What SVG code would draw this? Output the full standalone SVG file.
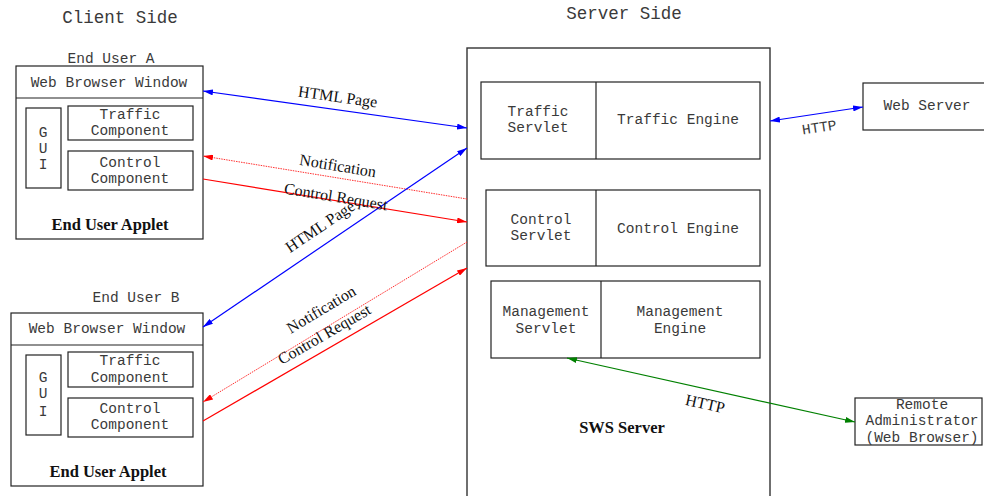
<svg xmlns="http://www.w3.org/2000/svg" width="984" height="496" viewBox="0 0 984 496">
  <style>
    .box { fill: #fff; stroke: #222; stroke-width: 1.2; }
    .mono { font-family: "Liberation Mono", "DejaVu Sans Mono", monospace; font-size: 14.5px; fill: #3a3a3a; }
    .title { font-family: "Liberation Mono", "DejaVu Sans Mono", monospace; font-size: 17.5px; fill: #3a3a3a; }
    .bold { font-family: "Liberation Serif", "Times New Roman", serif; font-size: 16.5px; font-weight: bold; fill: #111; }
    .lbl { font-family: "Liberation Serif", "Times New Roman", serif; font-size: 16px; fill: #111; }
    .blue { stroke: #0000ff; stroke-width: 1.2; fill: none; }
    .red { stroke: #ff0000; stroke-width: 1.2; fill: none; }
    .redDot { stroke: #ff3030; stroke-width: 1; stroke-dasharray: 1.5 1; fill: none; }
    .green { stroke: #008000; stroke-width: 1.2; fill: none; }
  </style>
  <defs>
    <marker id="ahBlue" viewBox="0 0 10 6" refX="10" refY="3" markerWidth="10" markerHeight="6" markerUnits="userSpaceOnUse" orient="auto-start-reverse">
      <path d="M0,0 L10,3 L0,6 z" fill="#0000ff"/>
    </marker>
    <marker id="ahRed" viewBox="0 0 10 6" refX="10" refY="3" markerWidth="10" markerHeight="6" markerUnits="userSpaceOnUse" orient="auto-start-reverse">
      <path d="M0,0 L10,3 L0,6 z" fill="#ff0000"/>
    </marker>
    <marker id="ahGreen" viewBox="0 0 10 6" refX="10" refY="3" markerWidth="10" markerHeight="6" markerUnits="userSpaceOnUse" orient="auto-start-reverse">
      <path d="M0,0 L10,3 L0,6 z" fill="#008000"/>
    </marker>
  </defs>

  <rect width="984" height="496" fill="#fff"/>

  <text class="title" x="120" y="23" text-anchor="middle">Client Side</text>
  <text class="title" x="624" y="19" text-anchor="middle">Server Side</text>

  <!-- End user A -->
  <g id="userA">
    <text class="mono" x="111" y="63" text-anchor="middle">End User A</text>
    <rect class="box" x="16" y="66" width="187" height="173"/>
    <line x1="16" y1="98" x2="203" y2="98" stroke="#222" stroke-width="1.2"/>
    <text class="mono" x="109" y="87" text-anchor="middle">Web Browser Window</text>
    <rect class="box" x="26" y="108" width="35" height="80"/>
    <text class="mono" x="43" y="137" text-anchor="middle">G</text>
    <text class="mono" x="43" y="153" text-anchor="middle">U</text>
    <text class="mono" x="43" y="169" text-anchor="middle">I</text>
    <rect class="box" x="68" y="106" width="125" height="34"/>
    <text class="mono" x="130" y="119" text-anchor="middle">Traffic</text>
    <text class="mono" x="130" y="135" text-anchor="middle">Component</text>
    <rect class="box" x="68" y="151" width="125" height="39"/>
    <text class="mono" x="130" y="167" text-anchor="middle">Control</text>
    <text class="mono" x="130" y="183" text-anchor="middle">Component</text>
    <text class="bold" x="110" y="230" text-anchor="middle">End User Applet</text>
  </g>

  <!-- End user B -->
  <g id="userB">
    <text class="mono" x="136" y="302" text-anchor="middle">End User B</text>
    <rect class="box" x="11" y="313" width="192" height="173"/>
    <line x1="11" y1="345" x2="203" y2="345" stroke="#222" stroke-width="1.2"/>
    <text class="mono" x="107" y="333" text-anchor="middle">Web Browser Window</text>
    <rect class="box" x="26" y="355" width="35" height="80"/>
    <text class="mono" x="43" y="382" text-anchor="middle">G</text>
    <text class="mono" x="43" y="398" text-anchor="middle">U</text>
    <text class="mono" x="43" y="416" text-anchor="middle">I</text>
    <rect class="box" x="68" y="352" width="125" height="35"/>
    <text class="mono" x="130" y="365" text-anchor="middle">Traffic</text>
    <text class="mono" x="130" y="382" text-anchor="middle">Component</text>
    <rect class="box" x="68" y="398" width="125" height="39"/>
    <text class="mono" x="130" y="413" text-anchor="middle">Control</text>
    <text class="mono" x="130" y="429" text-anchor="middle">Component</text>
    <text class="bold" x="108" y="477" text-anchor="middle">End User Applet</text>
  </g>

  <!-- SWS server -->
  <g id="swsServer">
    <rect x="467" y="48" width="303" height="460" fill="#fff" stroke="#333" stroke-width="1.4"/>
    <text class="bold" x="622" y="433" text-anchor="middle">SWS Server</text>
  </g>

  <g id="traffic">
    <rect class="box" x="481" y="82" width="279" height="77"/>
    <line x1="596" y1="82" x2="596" y2="159" stroke="#222" stroke-width="1.2"/>
    <text class="mono" x="538" y="116" text-anchor="middle">Traffic</text>
    <text class="mono" x="538" y="132" text-anchor="middle">Servlet</text>
    <text class="mono" x="678" y="124" text-anchor="middle">Traffic Engine</text>
  </g>

  <g id="control">
    <rect class="box" x="486" y="190" width="274" height="76"/>
    <line x1="596" y1="190" x2="596" y2="266" stroke="#222" stroke-width="1.2"/>
    <text class="mono" x="541" y="224" text-anchor="middle">Control</text>
    <text class="mono" x="541" y="240" text-anchor="middle">Servlet</text>
    <text class="mono" x="678" y="233" text-anchor="middle">Control Engine</text>
  </g>

  <g id="management">
    <rect class="box" x="491" y="281" width="269" height="77"/>
    <line x1="601" y1="281" x2="601" y2="358" stroke="#222" stroke-width="1.2"/>
    <text class="mono" x="546" y="316" text-anchor="middle">Management</text>
    <text class="mono" x="546" y="333" text-anchor="middle">Servlet</text>
    <text class="mono" x="680" y="316" text-anchor="middle">Management</text>
    <text class="mono" x="680" y="333" text-anchor="middle">Engine</text>
  </g>

  <g id="webServer">
    <rect class="box" x="863" y="83" width="124" height="47"/>
    <text class="mono" x="927" y="110" text-anchor="middle">Web Server</text>
  </g>

  <g id="remoteAdmin">
    <rect class="box" x="855" y="398" width="127" height="47"/>
    <text class="mono" x="922" y="409" text-anchor="middle">Remote</text>
    <text class="mono" x="922" y="425" text-anchor="middle">Administrator</text>
    <text class="mono" x="922" y="442" text-anchor="middle">(Web Browser)</text>
  </g>

  <!-- connectors -->
  <g id="connectors">
    <line class="blue" x1="203" y1="91" x2="467" y2="128" marker-start="url(#ahBlue)" marker-end="url(#ahBlue)"/>
    <line class="redDot" x1="467" y1="199" x2="203" y2="156" marker-end="url(#ahRed)"/>
    <line class="red" x1="203" y1="179" x2="467" y2="222" marker-end="url(#ahRed)"/>
    <line class="blue" x1="203" y1="327" x2="467" y2="148" marker-start="url(#ahBlue)" marker-end="url(#ahBlue)"/>
    <line class="redDot" x1="467" y1="242" x2="203" y2="402" marker-end="url(#ahRed)"/>
    <line class="red" x1="203" y1="421" x2="467" y2="268" marker-end="url(#ahRed)"/>
    <line class="blue" x1="770" y1="121" x2="863" y2="107" marker-start="url(#ahBlue)" marker-end="url(#ahBlue)"/>
    <line class="green" x1="567" y1="358" x2="855" y2="422" marker-start="url(#ahGreen)" marker-end="url(#ahGreen)"/>

    <text class="lbl" font-size="15" transform="translate(337,102) rotate(8)" text-anchor="middle">HTML Page</text>
    <text class="lbl" transform="translate(337,171) rotate(9.3)" text-anchor="middle">Notification</text>
    <text class="lbl" transform="translate(335,202) rotate(9.3)" text-anchor="middle">Control Request</text>
    <text class="lbl" font-size="15" transform="translate(323,231) rotate(-34)" text-anchor="middle">HTML Page</text>
    <text class="lbl" transform="translate(324,314) rotate(-31)" text-anchor="middle">Notification</text>
    <text class="lbl" transform="translate(327,339) rotate(-30)" text-anchor="middle">Control Request</text>
    <text class="mono" transform="translate(820,132) rotate(-8.6)" text-anchor="middle">HTTP</text>
    <text class="lbl" transform="translate(704,409) rotate(12.5)" text-anchor="middle">HTTP</text>
  </g>
</svg>
